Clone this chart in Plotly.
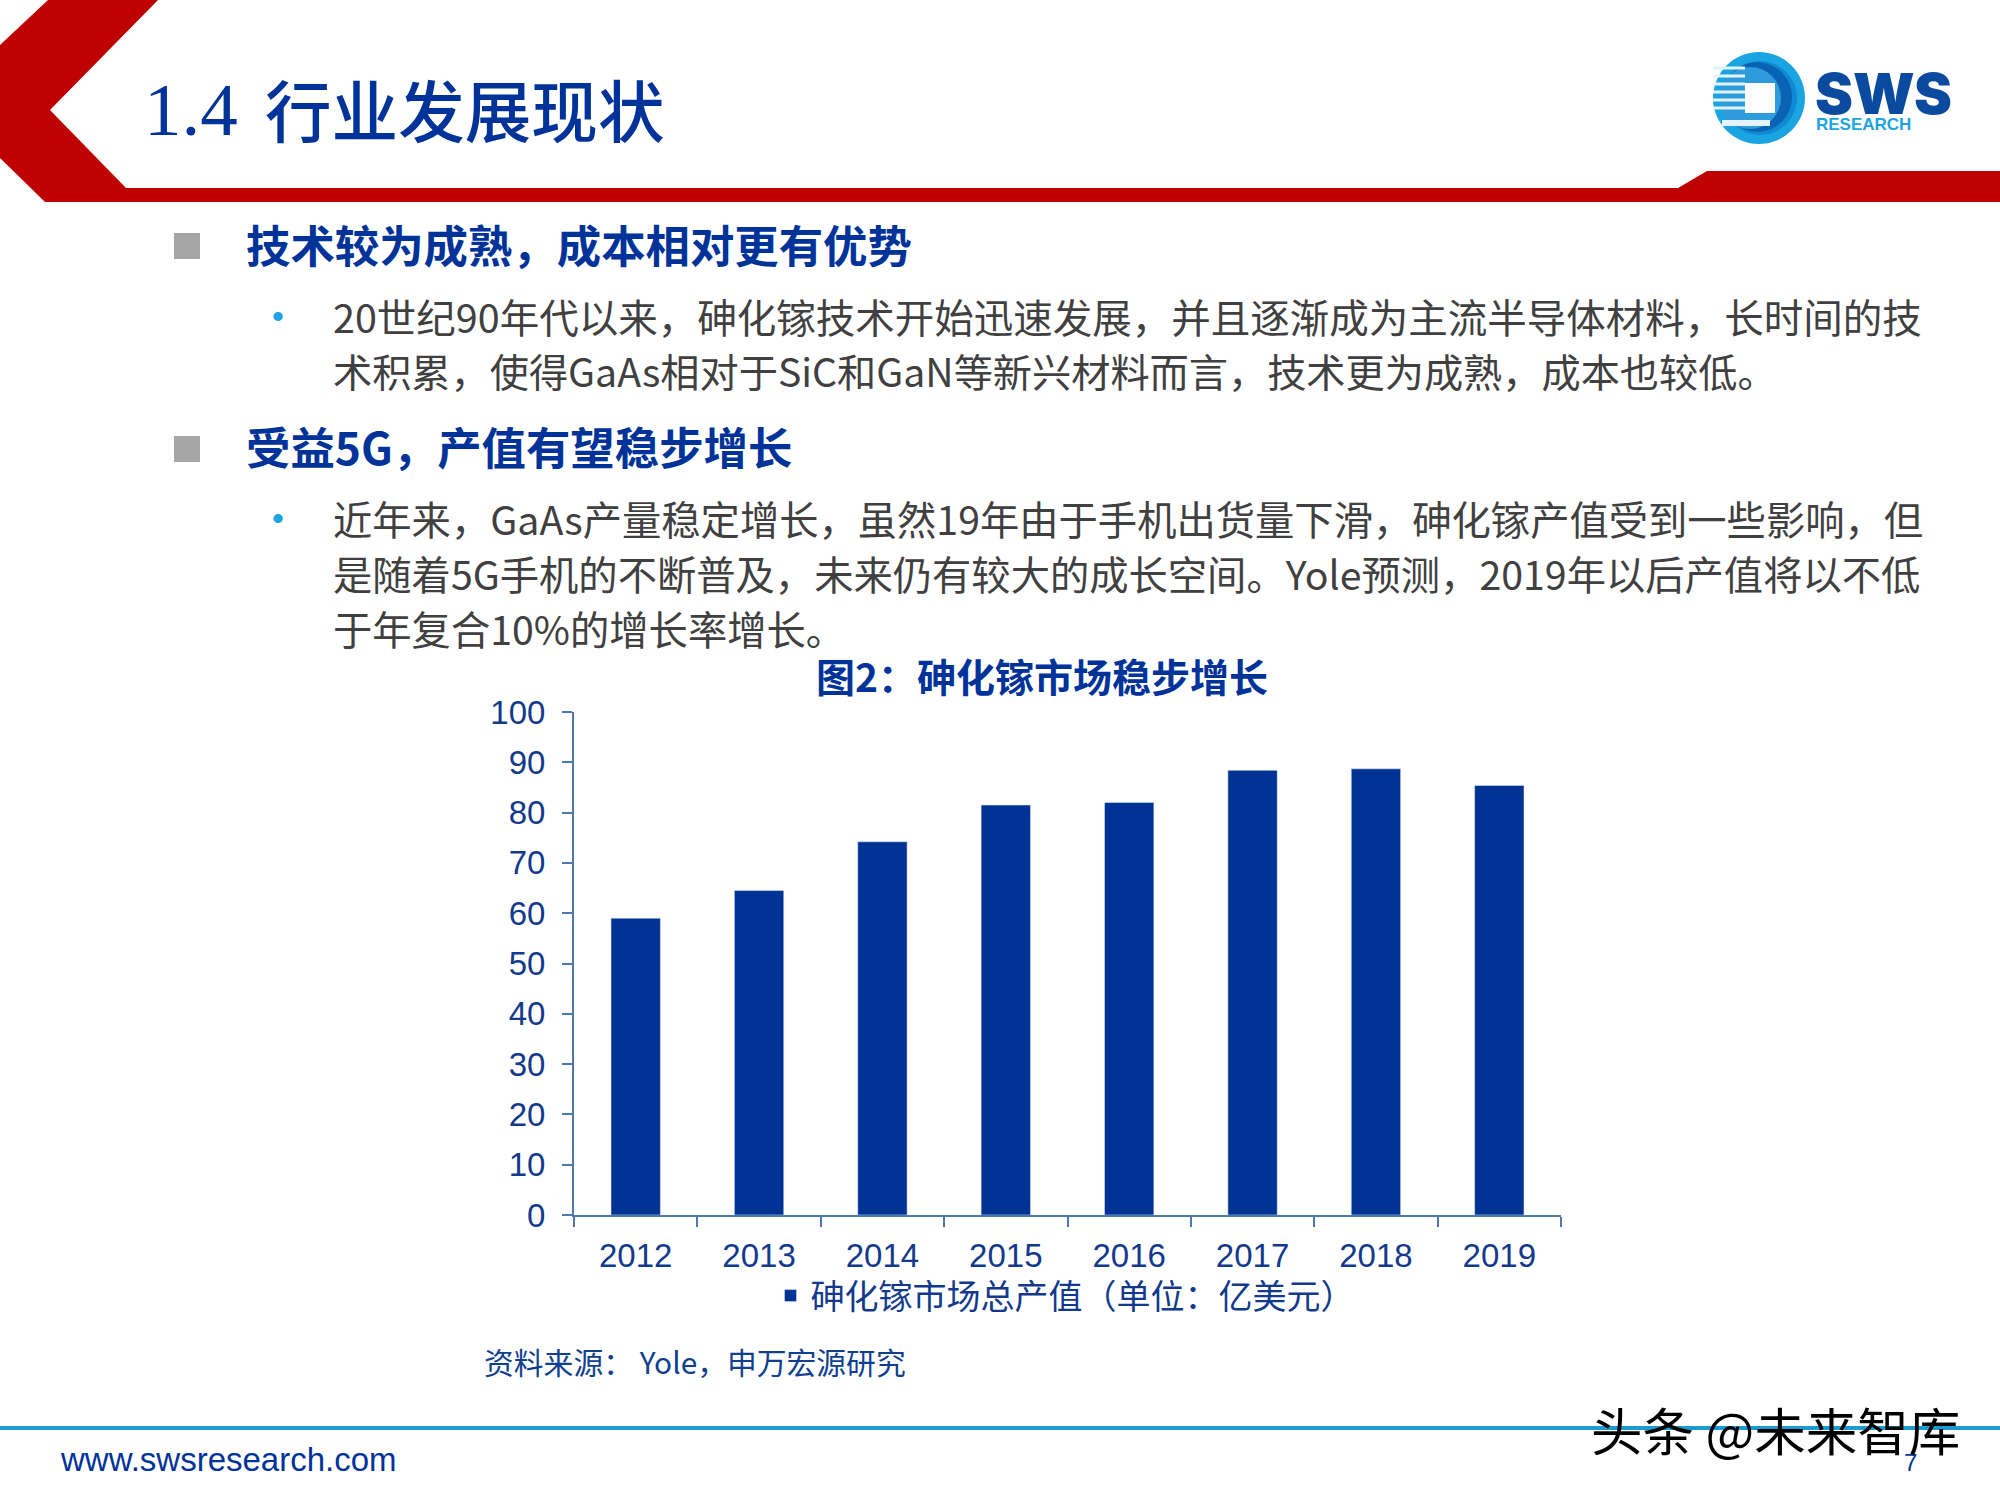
#!/usr/bin/env python3
"""Slide with the GaAs market value bar chart."""
import plotly.graph_objects as go

# chart data
years = ["2012", "2013", "2014", "2015", "2016", "2017", "2018", "2019"]
market_value = [59, 64.5, 74.2, 81.5, 82, 88.4, 88.7, 85.4]
y_ticks = [0, 10, 20, 30, 40, 50, 60, 70, 80, 90, 100]
series_name = "砷化镓市场总产值（单位：亿美元）"

# slide texts
section_number = "1.4"
slide_title = "行业发展现状"
heading_1 = "技术较为成熟，成本相对更有优势"
heading_2 = "受益5G，产值有望稳步增长"
body_1 = [
    "20世纪90年代以来，砷化镓技术开始迅速发展，并且逐渐成为主流半导体材料，长时间的技",
    "术积累，使得GaAs相对于SiC和GaN等新兴材料而言，技术更为成熟，成本也较低。",
]
body_2 = [
    "近年来，GaAs产量稳定增长，虽然19年由于手机出货量下滑，砷化镓产值受到一些影响，但",
    "是随着5G手机的不断普及，未来仍有较大的成长空间。Yole预测，2019年以后产值将以不低",
    "于年复合10%的增长率增长。",
]
chart_title = "图2：砷化镓市场稳步增长"
source_note = "资料来源： Yole，申万宏源研究"
site_url = "www.swsresearch.com"
watermark = "头条 @未来智库"
page_number = "7"

W, H = 2000, 1500
# plot area in page pixels
LEFT, RIGHT, TOP, BOTTOM = 574, 1561, 712, 1215
NAVY = "#003399"
RED = "#BE0000"
CJK = "Noto Sans CJK SC"
ARIAL = "Liberation Sans"


def px(x):
    return (x - LEFT) / (RIGHT - LEFT)


def py(y):
    return (BOTTOM - y) / (BOTTOM - TOP)


def path(points):
    return "M" + " L".join("{},{}".format(px(x), py(y)) for x, y in points) + " Z"


fig = go.Figure()
fig.add_trace(
    go.Bar(x=years, y=market_value, name=series_name, marker_color="#003394", width=0.4)
)


def label(x, y, text, size, color, font=CJK, anchor="left", weight=400):
    fig.add_annotation(
        xref="paper", yref="paper", x=px(x), y=py(y), text=text, showarrow=False,
        xanchor=anchor, yanchor="middle", borderpad=0, borderwidth=0,
        font=dict(family=font, size=size, color=color, weight=weight),
    )


def polygon(points, color):
    fig.add_shape(type="path", xref="paper", yref="paper", path=path(points),
                  fillcolor=color, line_width=0, layer="below")


def rect(x0, y0, x1, y1, color):
    fig.add_shape(type="rect", xref="paper", yref="paper", x0=px(x0), x1=px(x1),
                  y0=py(y0), y1=py(y1), fillcolor=color, line_width=0, layer="below")


def disc(cx, cy, r, color):
    fig.add_shape(type="circle", xref="paper", yref="paper", x0=px(cx - r), x1=px(cx + r),
                  y0=py(cy + r), y1=py(cy - r), fillcolor=color, line_width=0, layer="below")


# red header band with the chevron and the step on the right
polygon([(0, 45), (48, 0), (158, 0), (50, 110), (126, 188), (1678, 188), (1707, 171),
         (2000, 171), (2000, 202), (45, 202), (0, 158)], RED)

# logo
disc(1759, 98, 46, "#1AA5E2")
disc(1760, 98, 37, "#0F8AD2")
disc(1757, 97, 35, "#0A62B4")
disc(1750, 98, 31, "#2E9BDB")
for y in (68, 76, 84, 92, 100, 108):
    rect(1713, y - 1.5, 1745, y + 1.5, "#E3F2FB")
rect(1745, 83, 1775, 113, "white")
rect(1722, 120, 1770, 126, "#E3F2FB")
label(1815, 93, "SWS", 57, "#0A4A9F", font="Inter", weight=900)
label(1816, 124, "RESEARCH", 17, "#1AA5E2", font=ARIAL, weight=700)

# title, headings and body
label(144, 109, section_number, 75, NAVY, font="Liberation Serif")
label(265, 108, slide_title, 66.6, NAVY, weight=500)
rect(174, 233, 200, 259, "#A6A6A6")
rect(174, 436, 200, 462, "#A6A6A6")
label(246, 244, heading_1, 44.4, NAVY, weight=700)
label(246, 446, heading_2, 44.4, NAVY, weight=700)
for y, size, line in zip((315, 370), (39.5, 39.2), body_1):
    label(333, y, line, size, "#404040")
for y, line in zip((517, 572, 627), body_2):
    label(333, y, line, 39.3, "#404040")
label(278, 316, "•", 34, "#1AA5E2", font=ARIAL, anchor="center")
label(278, 518, "•", 34, "#1AA5E2", font=ARIAL, anchor="center")

# texts around the chart
label(1042, 675, chart_title, 39, NAVY, anchor="center", weight=700)
label(484, 1361, source_note, 29.8, "#0F3F8F")

# footer
rect(0, 1426, 2000, 1430, "#1A9CD0")
label(60, 1459, site_url, 33, NAVY, font=ARIAL)
label(1910, 1462, page_number, 24, NAVY, font=ARIAL, anchor="center")
label(1775, 1428, watermark, 51.5, "#000000", anchor="center")

fig.update_xaxes(
    type="category", showgrid=False, ticks="outside", ticklen=10, tickwidth=1.5,
    tickson="boundaries", tickcolor="#4F79AE", showline=True, linecolor="#4F79AE", linewidth=2,
    tickfont=dict(family=ARIAL, size=33, color="#12398C"), ticklabelstandoff=10,
)
fig.update_yaxes(
    range=[0, 100], tickvals=y_ticks, showgrid=False, zeroline=False, ticks="outside",
    ticklen=10, tickwidth=1.5, tickcolor="#4F79AE", showline=True, linecolor="#4F79AE",
    linewidth=2, tickfont=dict(family=ARIAL, size=33, color="#12398C"), ticklabelstandoff=10,
)
fig.update_layout(
    width=W, height=H, paper_bgcolor="white", plot_bgcolor="white",
    margin=dict(l=LEFT, r=W - RIGHT, t=TOP, b=H - BOTTOM, autoexpand=False),
    showlegend=True,
    legend=dict(
        orientation="h", xanchor="center", yanchor="middle", x=px(1065), y=py(1296),
        itemclick=False, font=dict(family=CJK, size=34, color="#12398C"),
        bgcolor="rgba(0,0,0,0)",
    ),
)

# the page's default body margin would push the slide off its edges
fig.write_html(
    "out.html",
    config=dict(displayModeBar=False),
    post_script="document.body.style.margin = '0';",
)
